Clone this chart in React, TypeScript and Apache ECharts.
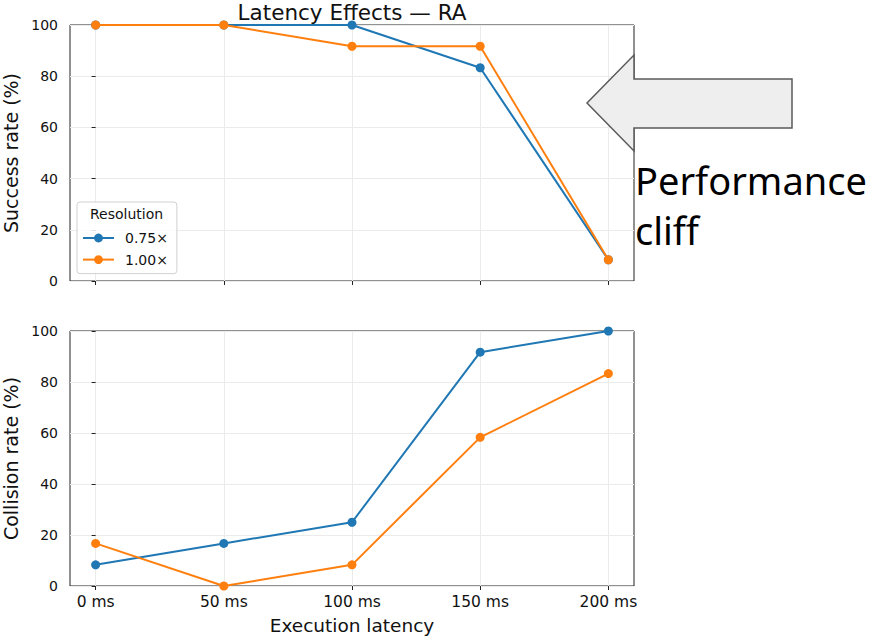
import React, { useEffect, useRef } from "react";
import * as echarts from "echarts";

const categories = ["0 ms", "50 ms", "100 ms", "150 ms", "200 ms"];
const resolutions = ["0.75×", "1.00×"];
const successRate075 = [100, 100, 100, 83.3, 8.3];
const successRate100 = [100, 100, 91.7, 91.7, 8.3];
const collisionRate075 = [8.3, 16.7, 25, 91.7, 100];
const collisionRate100 = [16.7, 0, 8.3, 58.3, 83.3];
const yTicks = [0, 20, 40, 60, 80, 100];

const BLUE = "#1f77b4";
const ORANGE = "#ff7f0e";
const FONT = "DejaVu Sans";

const pairs = (vals: number[]) => vals.map((v, i) => [i, v]);

export default function App() {
  const ref = useRef<HTMLDivElement>(null);
  useEffect(() => {
    if (!ref.current) return;
    const chart = echarts.init(ref.current, null, { renderer: "svg" });
    const idx = categories.map((_, i) => i);
    const mkX = (gridIndex: number, showLabels: boolean) => ({
      type: "value" as const,
      gridIndex,
      min: -0.2,
      max: 4.2,
      axisLine: { show: false },
      axisTick: {
        show: true,
        inside: false,
        length: 4,
        customValues: idx,
        lineStyle: { color: "#222", width: 1 },
      },
      axisLabel: {
        show: showLabels,
        customValues: idx,
        formatter: (v: number) => categories[Math.round(v)] ?? "",
        fontFamily: FONT,
        fontSize: 15.5,
        color: "#111",
        margin: 8,
      },
      splitLine: { show: true, lineStyle: { color: "#ebebeb", width: 1 } },
      name: showLabels ? "Execution latency" : "",
      nameLocation: "middle" as const,
      nameGap: 30,
      nameTextStyle: { fontFamily: FONT, fontSize: 18.5, color: "#111" },
    });
    const mkY = (gridIndex: number, name: string) => ({
      type: "value" as const,
      gridIndex,
      min: yTicks[0],
      max: yTicks[yTicks.length - 1],
      interval: 20,
      axisLine: { show: false },
      axisTick: { show: true, inside: false, length: 4, lineStyle: { color: "#222" } },
      axisLabel: { fontFamily: FONT, fontSize: 14, color: "#111", margin: 12 },
      splitLine: { show: true, lineStyle: { color: "#ebebeb", width: 1 } },
      name,
      nameLocation: "middle" as const,
      nameGap: 47,
      nameTextStyle: { fontFamily: FONT, fontSize: 19, color: "#111" },
    });
    const lineSeries = (name: string, color: string, vals: number[], gi: number, z: number) => ({
      type: "line" as const,
      name,
      xAxisIndex: gi,
      yAxisIndex: gi,
      data: pairs(vals),
      symbol: "circle",
      symbolSize: 9,
      color,
      lineStyle: { color, width: 2 },
      itemStyle: { color },
      clip: true,
      z,
    });
    const gridBase = {
      left: 70,
      width: 564,
      show: true,
      borderColor: "#222",
      borderWidth: 1,
      backgroundColor: "transparent",
      containLabel: false,
      outerBoundsMode: "none",
    };
    chart.setOption({
      animation: false,
      grid: [
        { ...gridBase, top: 25, height: 256 },
        { ...gridBase, top: 331, height: 255 },
      ],
      xAxis: [mkX(0, false), mkX(1, true)],
      yAxis: [mkY(0, "Success rate (%)"), mkY(1, "Collision rate (%)")],
      legend: {
        data: resolutions,
        orient: "vertical",
        left: 77,
        top: 202,
        padding: [29, 9, 7, 5],
        backgroundColor: "rgba(255,255,255,0.85)",
        borderColor: "#d0d0d0",
        borderWidth: 1,
        borderRadius: 3,
        itemWidth: 31,
        itemHeight: 11,
        itemGap: 7.6,
        textStyle: { fontFamily: FONT, fontSize: 14, lineHeight: 14, color: "#111", padding: [0, 0, 0, 6] },
        selectedMode: false,
        z: 5,
      },
      series: [
        lineSeries(resolutions[0], BLUE, successRate075, 0, 2),
        lineSeries(resolutions[1], ORANGE, successRate100, 0, 3),
        lineSeries(resolutions[0], BLUE, collisionRate075, 1, 2),
        lineSeries(resolutions[1], ORANGE, collisionRate100, 1, 3),
      ],
      graphic: [
        {
          type: "text",
          x: 352,
          y: 12.5,
          style: {
            text: "Latency Effects — RA",
            fontFamily: FONT,
            fontSize: 21.5,
            fill: "#111",
            align: "center",
            verticalAlign: "middle",
          },
          z: 10,
        },
        {
          type: "text",
          x: 126.5,
          y: 214,
          style: {
            text: "Resolution",
            fontFamily: FONT,
            fontSize: 14,
            fill: "#111",
            align: "center",
            verticalAlign: "middle",
          },
          z: 10,
        },
        {
          type: "polygon",
          shape: {
            points: [
              [587, 103],
              [634, 55],
              [634, 79],
              [792, 79],
              [792, 128],
              [634, 128],
              [634, 151],
            ],
          },
          style: { fill: "#eeeeee", stroke: "#5a5a5a", lineWidth: 1.5 },
          z: 20,
        },
        {
          type: "text",
          x: 635,
          y: 180,
          style: { text: "Performance", fontFamily: "Noto Sans", fontSize: 38, fill: "#000", verticalAlign: "middle" },
          z: 20,
        },
        {
          type: "text",
          x: 635,
          y: 230,
          style: { text: "cliff", fontFamily: "Noto Sans", fontSize: 38, fill: "#000", verticalAlign: "middle" },
          z: 20,
        },
      ],
    });
    return () => chart.dispose();
  }, []);
  return <div ref={ref} style={{ width: 870, height: 638, position: "absolute", left: 0, top: 0 }} />;
}
